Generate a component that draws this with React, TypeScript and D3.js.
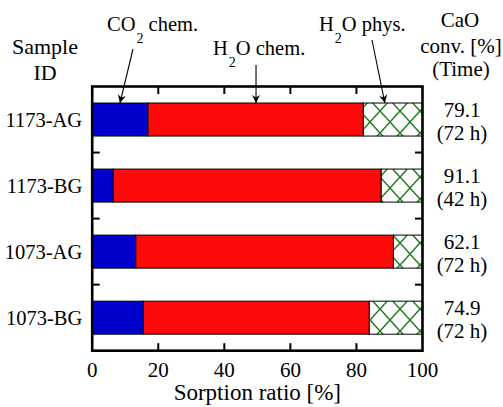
import { useEffect, useRef } from 'react';
import * as d3 from 'd3';

// sample ids, top to bottom
const categories = ['1173-AG', '1173-BG', '1073-AG', '1073-BG'];
// sorption ratio parts [%]
const co2Chem = [16.9, 6.4, 13.2, 15.5];
const h2oChem = [65.2, 81.1, 78.0, 68.4];
const h2oPhys = [17.9, 12.5, 8.8, 16.1];
// CaO conversion and time, right hand column
const conversion = ['79.1', '91.1', '62.1', '74.9'];
const times = ['(72 h)', '(42 h)', '(72 h)', '(72 h)'];
const xTicks = [0, 20, 40, 60, 80, 100];

const FONT = "'Liberation Serif', 'Times New Roman', 'DejaVu Serif', serif";

function App() {
  const svgRef = useRef<SVGSVGElement>(null);

  useEffect(() => {
    const svg = d3.select(svgRef.current);
    svg.selectAll('*').remove();

    const left = 92.2, right = 422.5, top = 86.5, bottom = 350.7;
    const x = d3.scaleLinear().domain([0, 100]).range([left, right]);
    const y = d3.scaleBand().domain(categories).range([top, bottom])
      .paddingInner(0.5).paddingOuter(0.25);

    const defs = svg.append('defs');
    const pat = defs.append('pattern')
      .attr('id', 'hatch')
      .attr('patternUnits', 'userSpaceOnUse')
      .attr('width', 20).attr('height', 22)
      .attr('y', 1);
    pat.append('rect').attr('width', 20).attr('height', 22).attr('fill', 'white');
    pat.append('path')
      .attr('d', 'M0,0 L20,22 M20,0 L0,22')
      .attr('stroke', '#1d7a1d').attr('stroke-width', 1.5).attr('fill', 'none');

    defs.append('marker')
      .attr('id', 'arrow')
      .attr('viewBox', '0 0 10 10')
      .attr('refX', 10).attr('refY', 5)
      .attr('markerWidth', 10).attr('markerHeight', 8)
      .attr('markerUnits', 'userSpaceOnUse')
      .attr('orient', 'auto')
      .append('path').attr('d', 'M0,0 L10,5 L0,10 L3,5 Z').attr('fill', 'black');

    // stacked bars
    const rows = categories.map((c, i) => ({ id: c, co2: co2Chem[i], h2o: h2oChem[i], phys: h2oPhys[i] }));
    const stack = d3.stack<any>().keys(['co2', 'h2o', 'phys'])(rows);
    const fills = ['#0000cc', '#ff0a0a', 'url(#hatch)'];

    stack.forEach((layer, k) => {
      svg.append('g').selectAll('rect').data(layer).join('rect')
        .attr('x', d => x(d[0]))
        .attr('width', d => x(d[1]) - x(d[0]))
        .attr('y', d => y(d.data.id)!)
        .attr('height', y.bandwidth())
        .attr('fill', fills[k])
        .attr('stroke', 'black')
        .attr('stroke-width', 1);
    });

    // ticks inside the frame
    const inner = xTicks.slice(1, -1);
    const tk = svg.append('g').attr('stroke', 'black').attr('stroke-width', 2);
    inner.forEach(t => {
      tk.append('line').attr('x1', x(t)).attr('x2', x(t)).attr('y1', top).attr('y2', top + 7.5);
      tk.append('line').attr('x1', x(t)).attr('x2', x(t)).attr('y1', bottom).attr('y2', bottom - 7.5);
    });
    categories.slice(1).forEach(c => {
      const yy = y(c)! - y.step() * 0.25;
      tk.append('line').attr('x1', left).attr('x2', left + 7.5).attr('y1', yy).attr('y2', yy);
      tk.append('line').attr('x1', right).attr('x2', right - 7.5).attr('y1', yy).attr('y2', yy);
    });

    // frame
    svg.append('rect')
      .attr('x', left).attr('y', top)
      .attr('width', right - left).attr('height', bottom - top)
      .attr('fill', 'none').attr('stroke', 'black').attr('stroke-width', 2.6);

    const txt = svg.append('g').style('font-family', FONT).attr('fill', 'black');

    // x tick labels
    txt.selectAll('.xl').data(xTicks).join('text')
      .attr('x', d => x(d)).attr('y', 377)
      .attr('text-anchor', 'middle').attr('font-size', 21)
      .text(d => d);
    txt.append('text')
      .attr('x', (left + right) / 2).attr('y', 400)
      .attr('text-anchor', 'middle').attr('font-size', 23)
      .text('Sorption ratio [%]');

    // category labels
    txt.selectAll('.cl').data(categories).join('text')
      .attr('x', left - 10).attr('y', d => y(d)! + y.bandwidth() / 2 + 7.5)
      .attr('text-anchor', 'end').attr('font-size', 20.5)
      .text(d => d);

    // right column
    categories.forEach((c, i) => {
      const cy = y(c)! + y.bandwidth() / 2;
      txt.append('text').attr('x', 462).attr('y', cy - 2.5)
        .attr('text-anchor', 'middle').attr('font-size', 21).text(conversion[i]);
      txt.append('text').attr('x', 462).attr('y', cy + 20)
        .attr('text-anchor', 'middle').attr('font-size', 21).text(times[i]);
    });

    // headers
    txt.append('text').attr('x', 45).attr('y', 54).attr('text-anchor', 'middle').attr('font-size', 22).text('Sample');
    txt.append('text').attr('x', 45).attr('y', 80).attr('text-anchor', 'middle').attr('font-size', 22).text('ID');
    txt.append('text').attr('x', 460).attr('y', 27).attr('text-anchor', 'middle').attr('font-size', 21).text('CaO');
    txt.append('text').attr('x', 461).attr('y', 53).attr('text-anchor', 'middle').attr('font-size', 21).text('conv. [%]');
    txt.append('text').attr('x', 461).attr('y', 76).attr('text-anchor', 'middle').attr('font-size', 21).text('(Time)');

    // annotation labels with subscripts
    const subLabel = (x0: number, y0: number, a: string, b: string) => {
      const t = txt.append('text').attr('x', x0).attr('y', y0).attr('font-size', 20.5);
      t.append('tspan').text(a);
      t.append('tspan').attr('font-size', 14).attr('dx', 1).attr('dy', 12).text('2');
      t.append('tspan').attr('dy', -12).text(b);
    };
    subLabel(107, 31, 'CO', ' chem.');
    subLabel(213, 55, 'H', 'O chem.');
    subLabel(319, 31, 'H', 'O phys.');

    // arrows pointing at the segments
    const barTop = y(categories[0])!;
    const arrows = [
      { x1: 133, y1: 49, v: 8.4 },
      { x1: x(49.6), y1: 65, v: 49.6 },
      { x1: 372, y1: 40, v: 88.6 },
    ];
    svg.append('g').selectAll('line').data(arrows).join('line')
      .attr('x1', d => d.x1).attr('y1', d => d.y1)
      .attr('x2', d => x(d.v)).attr('y2', barTop)
      .attr('stroke', 'black').attr('stroke-width', 1.1)
      .attr('marker-end', 'url(#arrow)');
  }, []);

  return (
    <svg
      ref={svgRef}
      width={503}
      height={407}
      style={{ position: 'absolute', left: 0, top: 0, background: 'white' }}
    />
  );
}

export default App;
